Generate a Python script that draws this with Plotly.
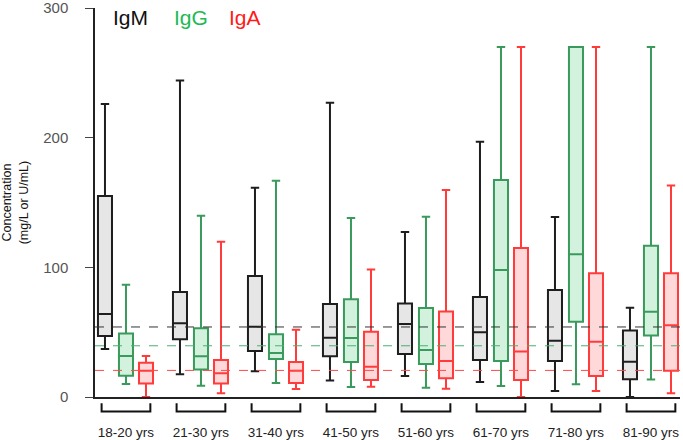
import plotly.graph_objects as go

groups = ["18-20 yrs", "21-30 yrs", "31-40 yrs", "41-50 yrs",
          "51-60 yrs", "61-70 yrs", "71-80 yrs", "81-90 yrs"]

# IgM
igm_low = [37, 17.5, 19.8, 12.8, 16.2, 11.6, 4.6, 0]
igm_q1 = [47, 44.5, 35.5, 31.4, 33.2, 28.5, 27.8, 13.6]
igm_med = [64, 56.8, 54.2, 45.7, 56.3, 49.9, 43.4, 27.2]
igm_q3 = [155, 81, 93.3, 71.7, 72.2, 77.1, 82.5, 51.2]
igm_high = [226, 244, 161.4, 227, 127.2, 196.9, 138.8, 68.9]

# IgG
igg_low = [10, 8.7, 10.8, 7.7, 7.2, 8.5, 9.8, 13.4]
igg_q1 = [16.4, 21.3, 29.3, 27, 25.4, 27.8, 58, 47.5]
igg_med = [31.6, 31.4, 33.9, 45.5, 36.2, 97.9, 110, 65.8]
igg_q3 = [49, 53, 48.3, 75.3, 68.6, 167.3, 270, 116.7]
igg_high = [86.6, 139.8, 166.8, 138, 139, 270, 270, 270]

# IgA
iga_low = [0, 2.8, 6.2, 8, 6.4, 0, 4.6, 2.8]
iga_q1 = [10.5, 10.5, 10.8, 13.1, 14.4, 13.1, 16.2, 20.3]
iga_med = [20.3, 18.3, 20.3, 23.4, 27.8, 35, 42.7, 55.3]
iga_q3 = [26.5, 28.5, 27, 50.4, 66, 114.9, 95.4, 95.4]
iga_high = [31.6, 119.7, 51.9, 98.4, 159.6, 270, 270, 163.2]

# reference levels
ref_igm = 54
ref_igg = 39.5
ref_iga = 20.5

series = [
    ("IgM", -0.28, igm_low, igm_q1, igm_med, igm_q3, igm_high, "#1e1e1e", "#e6e6e6"),
    ("IgG", 0.0, igg_low, igg_q1, igg_med, igg_q3, igg_high, "#3a9a5c", "#d2f2de"),
    ("IgA", 0.267, iga_low, iga_q1, iga_med, iga_q3, iga_high, "#ff3b3b", "#ffd9d9"),
]

fig = go.Figure()
for name, off, lo, q1, med, q3, hi, lc, fc in series:
    fig.add_trace(go.Box(
        name=name,
        x=[i + off for i in range(len(groups))],
        lowerfence=lo, q1=q1, median=med, q3=q3, upperfence=hi,
        width=0.187, whiskerwidth=0.6,
        line=dict(color=lc, width=2), fillcolor=fc,
        boxpoints=False, showlegend=False, hoverinfo="skip",
    ))

shapes = []
for val, col in [(ref_igm, "#333333"), (ref_igg, "#4caf70"), (ref_iga, "#ff4a4a")]:
    shapes.append(dict(type="line", xref="paper", yref="y", x0=0, x1=1, y0=val, y1=val,
                       line=dict(color=col, width=1, dash="dash"), layer="above"))

# brackets under each group
for i in range(len(groups)):
    shapes.append(dict(type="path", xref="x", yref="paper",
                       path=f"M {i-0.325},-0.016 L {i-0.325},-0.037 L {i+0.325},-0.037 L {i+0.325},-0.016",
                       line=dict(color="#111111", width=2)))

fig.update_layout(
    width=683, height=440,
    margin=dict(l=95, r=3, t=8, b=43),
    plot_bgcolor="white", paper_bgcolor="white",
    font=dict(family="Liberation Sans, Arial, sans-serif"),
    shapes=shapes,
    xaxis=dict(range=[-0.413, 7.387], tickvals=list(range(len(groups))), ticktext=groups,
               automargin=False,
               showgrid=False, zeroline=False, showline=True, linecolor="#222222", linewidth=1.5,
               ticks="", ticklabelstandoff=22, ticklabeloverflow="allow",
               tickfont=dict(size=13.5, color="#222222")),
    yaxis=dict(range=[0, 300], tickvals=[0, 100, 200, 300], showgrid=False, zeroline=False,
               automargin=False,
               showline=True, linecolor="#222222", linewidth=1.5,
               ticks="outside", ticklen=8, tickwidth=1.2, tickcolor="#444444",
               ticklabelstandoff=14, ticklabeloverflow="allow",
               tickfont=dict(size=15, color="#555555")),
    annotations=[
        dict(text="Concentration<br>(mg/L or U/mL)", xref="paper", yref="paper", x=-0.137, y=0.5,
             xanchor="center", yanchor="middle", textangle=-90, showarrow=False,
             font=dict(size=12.5, color="#111111")),
        dict(text="IgM", xref="paper", yref="paper", x=0.028, y=0.975, xanchor="left", yanchor="middle",
             showarrow=False, font=dict(size=21, color="#111111")),
        dict(text="IgG", xref="paper", yref="paper", x=0.131, y=0.975, xanchor="left", yanchor="middle",
             showarrow=False, font=dict(size=21, color="#1db954")),
        dict(text="IgA", xref="paper", yref="paper", x=0.225, y=0.975, xanchor="left", yanchor="middle",
             showarrow=False, font=dict(size=21, color="#ff1a1a")),
    ],
)

fig.write_html("out.html", config={"displayModeBar": False},
               post_script="document.body.style.margin='0';")
